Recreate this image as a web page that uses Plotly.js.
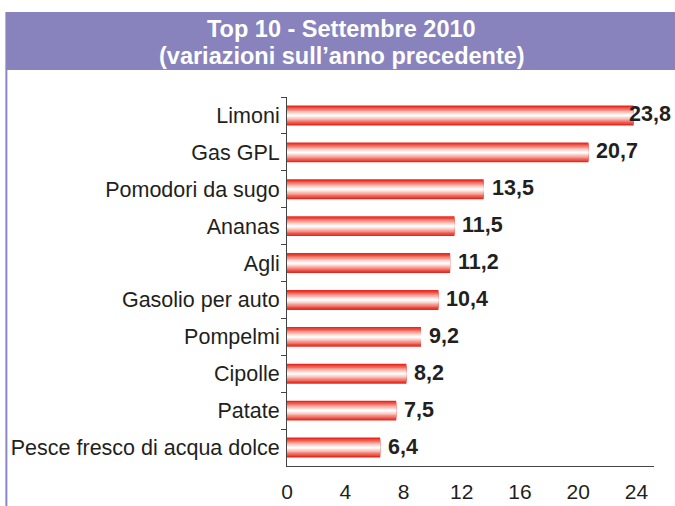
<!DOCTYPE html>
<html>
<head>
<meta charset="utf-8">
<script src="https://cdn.plot.ly/plotly-3.0.1.min.js"></script>
<style>html,body{margin:0;padding:0;background:#fff;}#chart{width:675px;height:506px;}</style>
</head>
<body>
<div id="chart"></div>
<script>
const categories = ["Limoni","Gas GPL","Pomodori da sugo","Ananas","Agli","Gasolio per auto","Pompelmi","Cipolle","Patate","Pesce fresco di acqua dolce"];
const values = [23.8, 20.7, 13.5, 11.5, 11.2, 10.4, 9.2, 8.2, 7.5, 6.4];
const tickValues = [0, 4, 8, 12, 16, 20, 24];
const titleLines = ["Top 10 - Settembre 2010", "(variazioni sull’anno precedente)"];

const XMAX = 25.2;
const BAR_W = 0.54;
const FONT = 'Liberation Sans, Arial, sans-serif';
const layers = [
  {f:1.00, c:'#e8291f'},
  {f:0.86, c:'#ec4a3f'},
  {f:0.72, c:'#f06e63'},
  {f:0.58, c:'#f49388'},
  {f:0.44, c:'#f8b7ae'},
  {f:0.30, c:'#fbd7d2'},
  {f:0.16, c:'#fef0ee'},
  {f:0.06, c:'#ffffff'}
];
const traces = layers.map(l => ({
  type:'bar', orientation:'h', x: values, y: categories,
  width: BAR_W*l.f, marker:{color:l.c, line:{width:0}},
  hoverinfo:'skip', showlegend:false
}));

const plotL = 287, plotT = 97, plotB = 466, plotW = XMAX*14.583, plotH = plotB - plotT;
const px = x => (x - plotL)/plotW;
const py = y => (plotB - y)/plotH;

const fmt = v => v.toFixed(1).replace('.', ',');
const LIMIT = XMAX - 2.0;
const annotations = values.map((v,i) => ({
  x: Math.min(v, LIMIT), y: categories[i], xref:'x', yref:'y',
  text: '<b>' + fmt(v) + '</b>', showarrow:false,
  xanchor:'left', xshift: v > LIMIT ? 2 : 6, yshift: 1,
  font:{family:FONT, size:21.5, color:'#231f20'}
}));
const titleY = [29, 56];
titleLines.forEach((t,i) => annotations.push({
  xref:'paper', yref:'paper', x:px(342), y:py(titleY[i]), xanchor:'center', yanchor:'middle',
  text:'<b>' + t + '</b>', showarrow:false,
  font:{family:FONT, size:23.5, color:'#ffffff'}
}));

const layout = {
  width:675, height:506,
  margin:{l:plotL, r:675-plotL-plotW, t:plotT, b:506-plotB, pad:0},
  paper_bgcolor:'#ffffff', plot_bgcolor:'#ffffff',
  barmode:'overlay',
  separators:',.',
  xaxis:{
    range:[0, XMAX], tickvals: tickValues, ticktext: tickValues.map(String),
    showgrid:false, zeroline:false, showline:true, linecolor:'#444', linewidth:1,
    ticks:'', ticklabelstandoff:7,
    tickfont:{family:FONT, size:21, color:'#231f20'}
  },
  yaxis:{
    type:'category', categoryorder:'array', categoryarray: categories,
    range:[categories.length-0.5, -0.5],
    showgrid:false, zeroline:false, showline:true, linecolor:'#444', linewidth:1,
    ticks:'outside', tickson:'boundaries', ticklen:5, tickcolor:'#444',
    ticklabelstandoff:2,
    tickfont:{family:FONT, size:21.5, color:'#231f20'}
  },
  annotations: annotations,
  shapes:[
    {type:'rect', xref:'paper', yref:'paper', x0:px(5), x1:px(676), y0:py(70), y1:py(12),
     fillcolor:'#8883bd', line:{width:0}, layer:'below'},
    {type:'rect', xref:'paper', yref:'paper', x0:px(5), x1:px(7), y0:py(507), y1:py(70),
     fillcolor:'#8b87c6', line:{width:0}, layer:'below'}
  ]
};

Plotly.newPlot('chart', traces, layout, {displayModeBar:false, staticPlot:true});
</script>
</body>
</html>
